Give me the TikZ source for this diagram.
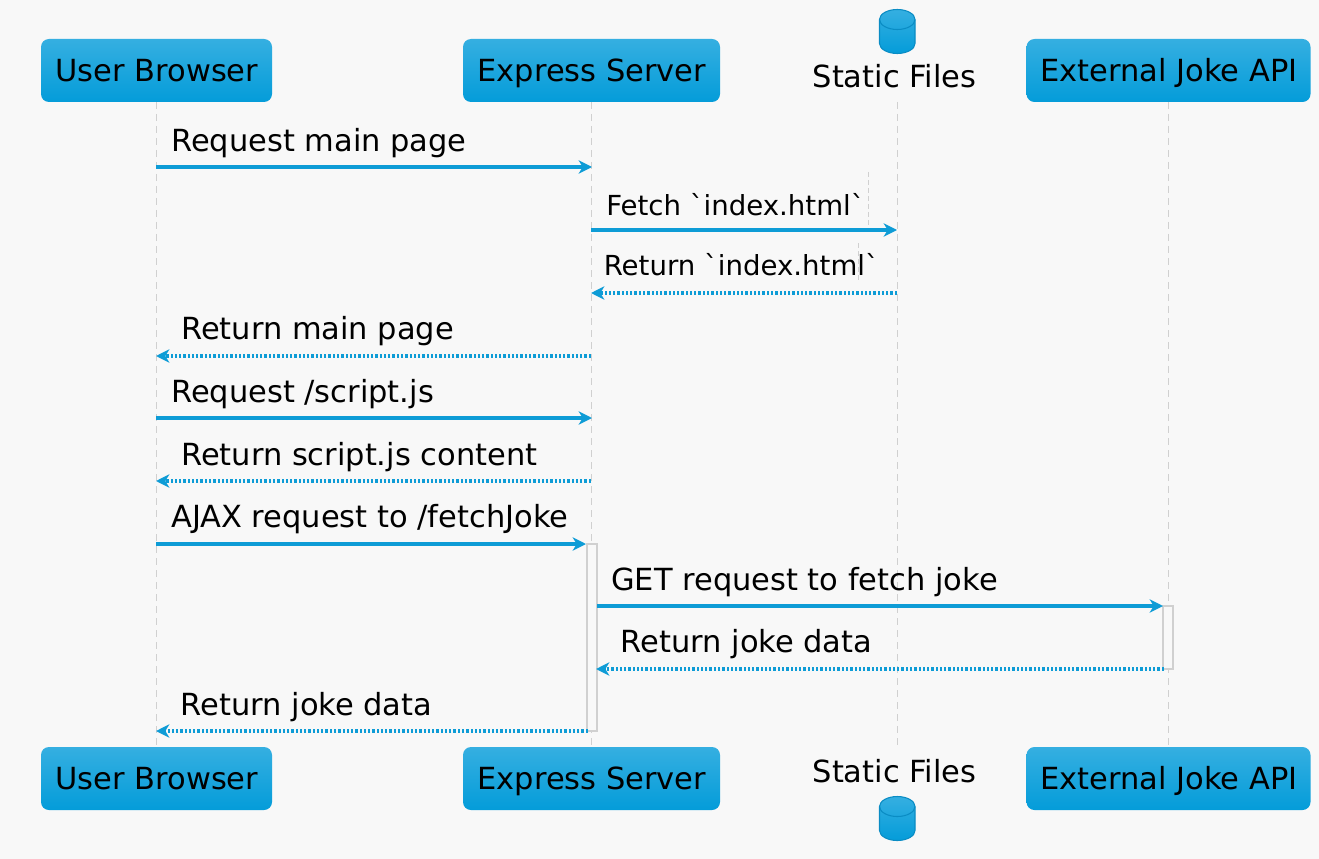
\documentclass[tikz,border=0pt]{standalone}
\usepackage{fontspec}
\setmainfont{DejaVu Sans}
\newfontfamily\rawfont{DejaVu Sans}
\usetikzlibrary{arrows.meta}
\definecolor{pagebg}{HTML}{F8F8F8}
\definecolor{flow}{HTML}{0E9CD6}
\definecolor{lifegray}{HTML}{D0D0D0}
\definecolor{boxtop}{HTML}{35AFE1}
\definecolor{boxbot}{HTML}{049CD9}
\definecolor{cylline}{HTML}{0A8CC4}
\tikzset{
  actor/.style={rounded corners=6pt,top color=boxtop,bottom color=boxbot,draw=none,minimum height=47.25pt,inner sep=0pt,font=\rawfont\fontsize{22.85}{26}\selectfont,text=black,text height=16pt,text depth=0.25pt},
  topactor/.style={actor,text height=17.5pt},
  dblabel/.style={font=\rawfont\fontsize{22.85}{26}\selectfont,text=black,inner sep=0pt,anchor=base},
  msglabel/.style={font=\rawfont\fontsize{22.85}{26}\selectfont,text=black,inner sep=0pt,anchor=base west},
  smalllabel/.style={msglabel,font=\rawfont\fontsize{20.7}{24}\selectfont},
  life/.style={draw=lifegray,line width=0.75pt,dash pattern=on 5pt off 4pt},
  frag/.style={draw=lifegray,line width=0.6pt,dash pattern=on 3.5pt off 2.5pt},
  activation/.style={draw=lifegray,line width=0.9pt,fill=pagebg,minimum width=7.5pt,inner sep=0pt},
  solidmsg/.style={draw=flow,line width=2.3pt,-{Stealth[length=10pt,width=10pt,inset=3pt]}},
  dotmsg/.style={draw=flow,line width=2.3pt,dash pattern=on 1.7pt off 1.5pt,-{Stealth[length=10pt,width=10pt,inset=3pt,sep=0pt]}},
  dbcyl/.pic={
    \path[top color=boxtop,bottom color=boxbot,draw=cylline,line width=0.8pt]
      (-17.75,-12) .. controls (-17.75,-17.5) and (-9.8,-22) .. (0,-22)
      .. controls (9.8,-22) and (17.75,-17.5) .. (17.75,-12)
      -- (17.75,12) .. controls (17.75,17.5) and (9.8,22) .. (0,22)
      .. controls (-9.8,22) and (-17.75,17.5) .. (-17.75,12) -- cycle;
    \draw[cylline,line width=0.8pt] (-17.75,-12) .. controls (-17.75,-6.5) and (-9.8,-2) .. (0,-2)
      .. controls (9.8,-2) and (17.75,-6.5) .. (17.75,-12);
  },
}
\begin{document}
\begin{tikzpicture}[x=0.75pt,y=-0.75pt]
\useasboundingbox (0,0) rectangle (1319,859);
\fill[pagebg] (0,0) rectangle (1319,859);
% lifeline end points
\coordinate (ubT) at (156,102); \coordinate (ubB) at (156,747);
\coordinate (esT) at (591,102); \coordinate (esB) at (591,747);
\coordinate (sfT) at (897,102); \coordinate (sfB) at (897,747);
\coordinate (jaT) at (1168,102); \coordinate (jaB) at (1168,747);
\draw[life] (ubT) -- (ubB);
\draw[life] (esT) -- (esB);
\draw[life] (sfT) -- (sfB);
\draw[life] (jaT) -- (jaB);
\coordinate (f1a) at (868,172); \coordinate (f1b) at (868,225);
\coordinate (f2a) at (858,243); \coordinate (f2b) at (858,282);
\draw[frag] (f1a) -- (f1b);
\draw[frag] (f2a) -- (f2b);
% actors
\node[topactor,minimum width=173.25pt] (ub) at (156.5,70.5) {\hspace{0.7pt}User Browser};
\node[topactor,minimum width=192.75pt] (es) at (591.5,70.5) {\hspace{0.7pt}Express Server};
\node[topactor,minimum width=213pt] (ja) at (1168.5,70.5) {\hspace{0.7pt}External Joke API};
\pic (sfc) at (897.25,31.5) {dbcyl};
\node[dblabel] (sf) at (894.5,88) {Static Files};
\node[actor,minimum width=173.25pt] (ub2) at (156.5,778.5) {\hspace{0.7pt}User Browser};
\node[actor,minimum width=192.75pt] (es2) at (591.5,778.5) {\hspace{0.7pt}Express Server};
\node[actor,minimum width=213pt] (ja2) at (1168.5,778.5) {\hspace{0.7pt}External Joke API};
\pic (sfc2) at (897.25,818.5) {dbcyl};
\node[dblabel] (sf2) at (894.5,782) {Static Files};
% activations
\node[activation,minimum height=140.25pt] (act1) at (592,637.5) {};
\node[activation,minimum height=47.25pt] (act2) at (1168,637.5) {};
% message end points
\coordinate (a1) at (156,167); \coordinate (b1) at (592,167);
\coordinate (a2) at (591,230); \coordinate (b2) at (897,230);
\coordinate (a3) at (897,293); \coordinate (b3) at (591,293);
\coordinate (a4) at (591,356); \coordinate (b4) at (156,356);
\coordinate (a5) at (156,418); \coordinate (b5) at (592,418);
\coordinate (a6) at (591,481); \coordinate (b6) at (156,481);
\coordinate (a7) at (156,544); \coordinate (b7) at (586,544);
\coordinate (a8) at (597,606); \coordinate (b8) at (1163,606);
\coordinate (a9) at (1164,669); \coordinate (b9) at (596,669);
\coordinate (a10) at (588,731); \coordinate (b10) at (156,731);
\draw[solidmsg] (a1) -- (b1);
\draw[solidmsg] (a2) -- (b2);
\draw[dotmsg] (a3) -- (b3);
\draw[dotmsg] (a4) -- (b4);
\draw[solidmsg] (a5) -- (b5);
\draw[dotmsg] (a6) -- (b6);
\draw[solidmsg] (a7) -- (b7);
\draw[solidmsg] (a8) -- (b8);
\draw[dotmsg] (a9) -- (b9);
\draw[dotmsg] (a10) -- (b10);
% labels
\node[msglabel] (l1) at (171,152) {Request main page};
\node[smalllabel] (l2) at (606,215) {Fetch `index.html`};
\node[smalllabel] (l3) at (603.5,275.5) {Return `index.html`};
\node[msglabel] (l4) at (181,339) {Return main page};
\node[msglabel] (l5) at (171,402) {Request /script.js};
\node[msglabel] (l6) at (181,465) {Return script.js content};
\node[msglabel] (l7) at (171,527) {AJAX request to /fetchJoke};
\node[msglabel] (l8) at (611,590) {GET request to fetch joke};
\node[msglabel] (l9) at (620.5,652) {Return joke data};
\node[msglabel] (l10) at (180.5,715) {Return joke data};
\end{tikzpicture}
\end{document}
